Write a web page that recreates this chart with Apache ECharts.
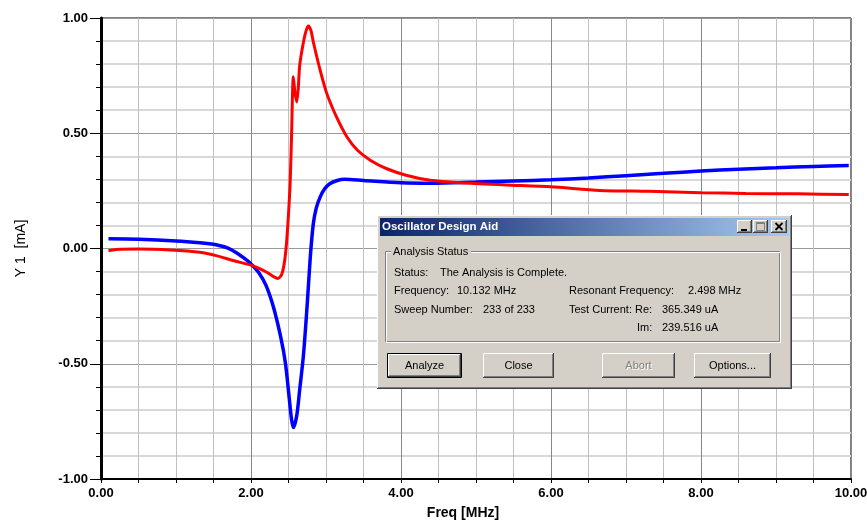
<!DOCTYPE html>
<html>
<head>
<meta charset="utf-8">
<script src="https://cdn.jsdelivr.net/npm/echarts@6/dist/echarts.min.js"></script>
<style>
html,body{margin:0;padding:0;background:#fff;}
#chart{width:867px;height:523px;}
</style>
</head>
<body>
<div id="chart"></div>
<script>
// ---- Data ----
var blueFreq = [0.10, 0.5, 1.0, 1.32, 1.5, 1.6, 1.7, 1.8, 1.9, 2.0, 2.1, 2.2, 2.3, 2.4, 2.46, 2.51, 2.54, 2.565, 2.61, 2.65, 2.70, 2.75, 2.79, 2.83, 2.87, 2.92, 2.98, 3.05, 3.15, 3.25, 3.5, 4.0, 4.4, 5.0, 5.5, 6.0, 6.5, 7.0, 7.5, 8.0, 8.5, 9.0, 9.5, 9.97];
var blueVal  = [0.042, 0.040, 0.033, 0.025, 0.018, 0.011, 0.001, -0.017, -0.040, -0.067, -0.103, -0.160, -0.255, -0.390, -0.50, -0.65, -0.74, -0.777, -0.725, -0.61, -0.46, -0.24, -0.04, 0.105, 0.175, 0.222, 0.258, 0.281, 0.295, 0.300, 0.295, 0.285, 0.283, 0.288, 0.293, 0.298, 0.306, 0.316, 0.326, 0.336, 0.344, 0.350, 0.356, 0.360];

var redFreq = [0.10, 0.2, 0.5, 0.92, 1.32, 1.55, 1.76, 2.0, 2.1, 2.21, 2.3, 2.36, 2.41, 2.45, 2.48, 2.52, 2.54, 2.564, 2.585, 2.61, 2.63, 2.65, 2.70, 2.735, 2.764, 2.80, 2.83, 2.92, 3.01, 3.14, 3.28, 3.42, 3.59, 3.81, 4.08, 4.39, 4.8, 5.4, 6.0, 6.65, 7.3, 8.0, 8.6, 9.3, 9.97];
var redVal  = [-0.010, -0.004, -0.002, -0.006, -0.016, -0.032, -0.052, -0.072, -0.085, -0.103, -0.122, -0.130, -0.112, -0.05, 0.05, 0.27, 0.48, 0.745, 0.68, 0.636, 0.694, 0.796, 0.897, 0.945, 0.965, 0.945, 0.897, 0.776, 0.673, 0.571, 0.484, 0.426, 0.383, 0.346, 0.317, 0.296, 0.285, 0.276, 0.268, 0.252, 0.248, 0.242, 0.239, 0.237, 0.234];

var xAxisName = 'Freq [MHz]';
var yAxisName = 'Y 1  [mA]';

var dialogTitle = 'Oscillator Design Aid';
var groupTitle = 'Analysis Status';
var statusLabel = 'Status:', statusText = 'The Analysis is Complete.';
var freqLabel = 'Frequency:', freqText = '10.132 MHz';
var sweepLabel = 'Sweep Number:', sweepText = '233 of 233';
var resLabel = 'Resonant Frequency:', resText = '2.498 MHz';
var reLabel = 'Test Current: Re:', reText = '365.349 uA';
var imLabel = 'Im:', imText = '239.516 uA';
var buttonLabels = ['Analyze', 'Close', 'Abort', 'Options...'];

function zip(a, b) { return a.map(function (v, i) { return [v, b[i]]; }); }

var FONT = '"Liberation Sans", Arial, sans-serif';
var DLG = '#D4D0C8';

function txt(x, y, s, opt) {
  opt = opt || {};
  return {
    type: 'text', x: x, y: y, z: 110,
    style: {
      text: s, fill: opt.fill || '#000',
      font: (opt.bold ? 'bold ' : '') + (opt.size || 11) + 'px ' + FONT,
      textAlign: opt.align || 'left', textVerticalAlign: 'middle'
    }
  };
}
function ln(x1, y1, x2, y2, c, w, z) {
  return { type: 'line', z: z || 105, shape: { x1: x1, y1: y1, x2: x2, y2: y2 }, style: { stroke: c, lineWidth: w || 1 } };
}
function raised(x, y, w, h, z) {
  var r = x + w, b = y + h;
  return [
    { type: 'rect', z: z, shape: { x: x, y: y, width: w, height: h }, style: { fill: DLG } },
    ln(x + 0.5, y + 0.5, r - 0.5, y + 0.5, '#FFFFFF', 1, z),
    ln(x + 0.5, y + 0.5, x + 0.5, b - 0.5, '#FFFFFF', 1, z),
    ln(x, b - 0.5, r, b - 0.5, '#404040', 1, z),
    ln(r - 0.5, y, r - 0.5, b, '#404040', 1, z),
    ln(x + 1, b - 1.5, r - 1, b - 1.5, '#808080', 1, z),
    ln(r - 1.5, y + 1, r - 1.5, b - 1, '#808080', 1, z)
  ];
}
function button(x, y, w, h, label, opts) {
  opts = opts || {};
  var els = raised(x, y, w, h, 106);
  if (opts.def) {
    els.push({ type: 'rect', z: 108, shape: { x: x - 0.5, y: y - 0.5, width: w + 1, height: h + 1 }, style: { fill: 'none', stroke: '#000', lineWidth: 1 } });
  }
  var cx = x + w / 2, cy = y + h / 2;
  if (opts.disabled) {
    els.push(txt(cx + 1, cy + 1, label, { align: 'center', fill: '#FFFFFF' }));
    els.push(txt(cx, cy, label, { align: 'center', fill: '#808080' }));
  } else {
    els.push(txt(cx, cy, label, { align: 'center' }));
  }
  return els;
}

var g = [];
// window frame
g = g.concat(raised(377, 215, 415, 174, 100));
// title bar
g.push({ type: 'rect', z: 101, shape: { x: 380, y: 218, width: 409, height: 18 },
  style: { fill: new echarts.graphic.LinearGradient(0, 0, 1, 0, [{ offset: 0, color: '#0A246A' }, { offset: 1, color: '#A6CAF0' }]) } });
g.push(txt(382, 227, dialogTitle, { bold: true, fill: '#FFFFFF', size: 11.5 }));
// title buttons
g = g.concat(raised(737, 220, 15, 13, 106));
g = g.concat(raised(753, 220, 15, 13, 106));
g = g.concat(raised(771, 220, 16, 13, 106));
g.push(ln(741, 230, 747, 230, '#000', 2, 112));
g.push({ type: 'rect', z: 112, shape: { x: 756.5, y: 222.5, width: 8, height: 8 }, style: { fill: 'none', stroke: '#808080', lineWidth: 1 } });
g.push(ln(756.5, 223.5, 764.5, 223.5, '#808080', 1, 112));
g.push(ln(775.5, 223, 782.5, 230, '#000', 1.8, 112));
g.push(ln(782.5, 223, 775.5, 230, '#000', 1.8, 112));
// group box (etched)
g.push({ type: 'rect', z: 102, shape: { x: 385.5, y: 251.5, width: 394, height: 90 }, style: { fill: 'none', stroke: '#808080', lineWidth: 1 } });
g.push({ type: 'rect', z: 102, shape: { x: 386.5, y: 252.5, width: 394, height: 90 }, style: { fill: 'none', stroke: '#FFFFFF', lineWidth: 1 } });
g.push({ type: 'rect', z: 103, shape: { x: 391, y: 245, width: 80, height: 12 }, style: { fill: DLG } });
g.push(txt(393, 251.5, groupTitle));
// status texts
g.push(txt(394, 272.5, statusLabel));
g.push(txt(440, 272.5, statusText));
g.push(txt(394, 291, freqLabel));
g.push(txt(457, 291, freqText));
g.push(txt(394, 309.5, sweepLabel));
g.push(txt(483, 309.5, sweepText));
g.push(txt(569, 291, resLabel));
g.push(txt(688, 291, resText));
g.push(txt(569, 309.5, reLabel));
g.push(txt(662, 309.5, reText));
g.push(txt(637, 327.5, imLabel));
g.push(txt(662, 327.5, imText));
// buttons
g = g.concat(button(388, 354, 73, 23, buttonLabels[0], { def: true }));
g = g.concat(button(483, 353, 71, 25, buttonLabels[1]));
g = g.concat(button(602, 353, 73, 25, buttonLabels[2], { disabled: true }));
g = g.concat(button(694, 353, 77, 25, buttonLabels[3]));

var chart = echarts.init(document.getElementById('chart'), null, { renderer: 'canvas' });
chart.setOption({
  animation: false,
  backgroundColor: '#FFFFFF',
  grid: { left: 101, right: 16, top: 18, bottom: 44, outerBoundsMode: 'none', containLabel: false,
    show: true, borderColor: '#000', borderWidth: 1, backgroundColor: 'transparent' },
  xAxis: {
    type: 'value', min: 0, max: 10, interval: 2,
    name: xAxisName, nameLocation: 'middle', nameGap: 27,
    nameTextStyle: { fontFamily: FONT, fontSize: 14, fontWeight: 'bold', color: '#000', padding: [0, 26, 0, 0] },
    axisLine: { show: true, onZero: false, lineStyle: { color: '#000', width: 2 } },
    axisTick: { show: true, inside: false, length: 4, lineStyle: { color: '#000' } },
    minorTick: { show: true, splitNumber: 4, length: 4, lineStyle: { color: '#000' } },
    axisLabel: { margin: 8, fontFamily: FONT, fontSize: 13, fontWeight: 'bold', color: '#000',
      formatter: function (v) { return v.toFixed(2); } },
    splitLine: { show: true, lineStyle: { color: '#888888', width: 1 } },
    minorSplitLine: { show: true, lineStyle: { color: '#C0C0C0', width: 1 } }
  },
  yAxis: {
    type: 'value', min: -1, max: 1, interval: 0.5,
    name: yAxisName, nameLocation: 'middle', nameGap: 73, nameRotate: 90,
    nameTextStyle: { fontFamily: FONT, fontSize: 14, color: '#000' },
    axisLine: { show: true, onZero: false, lineStyle: { color: '#000', width: 3 } },
    axisTick: { show: true, inside: false, length: 11, lineStyle: { color: '#000' } },
    minorTick: { show: true, splitNumber: 5, length: 5, lineStyle: { color: '#000' } },
    axisLabel: { margin: 13, fontFamily: FONT, fontSize: 13, fontWeight: 'bold', color: '#000',
      formatter: function (v) { return v.toFixed(2); } },
    splitLine: { show: true, lineStyle: { color: '#999999', width: 1 } },
    minorSplitLine: { show: true, lineStyle: { color: '#D8D8D8', width: 2 } }
  },
  series: [
    { type: 'line', name: 'Im', data: zip(blueFreq, blueVal), showSymbol: false, smooth: 0.3,
      lineStyle: { color: '#0000FF', width: 3.5 }, z: 3 },
    { type: 'line', name: 'Re', data: zip(redFreq, redVal), showSymbol: false, smooth: 0.25,
      lineStyle: { color: '#FF0000', width: 3 }, z: 4 }
  ],
  graphic: g
});
</script>
</body>
</html>
